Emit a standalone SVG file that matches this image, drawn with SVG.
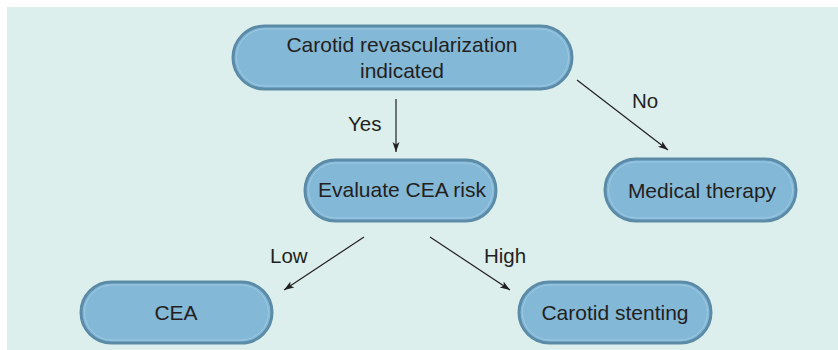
<svg xmlns="http://www.w3.org/2000/svg" width="838" height="350" viewBox="0 0 838 350">
<defs>
<style>
.node-outer{fill:#84b8d7;stroke:#5b8ba7;stroke-width:3}
.node-inner{fill:none;stroke:#9cc9e3;stroke-width:1}
.t{font-family:"Liberation Sans",Arial,sans-serif;font-size:21px;fill:#231f20;text-anchor:middle}
.lbl{font-family:"Liberation Sans",Arial,sans-serif;font-size:20.5px;fill:#231f20}
.conn{stroke:#231f20;stroke-width:1.2;fill:none;marker-end:url(#ah)}
</style>
<marker id="ah" viewBox="0 0 10 10" refX="10" refY="5" markerWidth="10" markerHeight="10" markerUnits="userSpaceOnUse" orient="auto">
<path d="M0,1.5 L10,5 L0,8.5 L2.5,5 Z" fill="#231f20"/>
</marker>
</defs>
<rect x="7" y="7" width="831" height="343" fill="#dcefec"/>
<g id="connectors">
<line class="conn" x1="396" y1="99" x2="396" y2="152"/>
<line class="conn" x1="577" y1="80" x2="668" y2="150"/>
<line class="conn" x1="364" y1="237" x2="284" y2="290"/>
<line class="conn" x1="430" y1="237" x2="510" y2="290"/>
<text class="lbl" x="348" y="131">Yes</text>
<text class="lbl" x="632" y="108">No</text>
<text class="lbl" x="270" y="263">Low</text>
<text class="lbl" x="484" y="263">High</text>
</g>
<g id="n-top">
<rect class="node-outer" x="233" y="26" width="339" height="63" rx="31.5"/>
<rect class="node-inner" x="236.5" y="29" width="332" height="57" rx="28.5"/>
<text class="t" x="402" y="52">Carotid revascularization</text>
<text class="t" x="402" y="78">indicated</text>
</g>
<g id="n-eval">
<rect class="node-outer" x="305" y="160" width="191" height="61" rx="30.5"/>
<rect class="node-inner" x="308.5" y="163" width="184" height="55" rx="27.5"/>
<text class="t" x="402" y="197">Evaluate CEA risk</text>
</g>
<g id="n-med">
<rect class="node-outer" x="605" y="159" width="191" height="62" rx="31"/>
<rect class="node-inner" x="608.5" y="162" width="184" height="56" rx="28"/>
<text class="t" x="702" y="198">Medical therapy</text>
</g>
<g id="n-cea">
<rect class="node-outer" x="81" y="282" width="191" height="61" rx="30.5"/>
<rect class="node-inner" x="84.5" y="285" width="184" height="55" rx="27.5"/>
<text class="t" x="176" y="320">CEA</text>
</g>
<g id="n-stent">
<rect class="node-outer" x="519" y="282" width="192" height="61" rx="30.5"/>
<rect class="node-inner" x="522.5" y="285" width="185" height="55" rx="27.5"/>
<text class="t" x="615" y="320">Carotid stenting</text>
</g>
</svg>
